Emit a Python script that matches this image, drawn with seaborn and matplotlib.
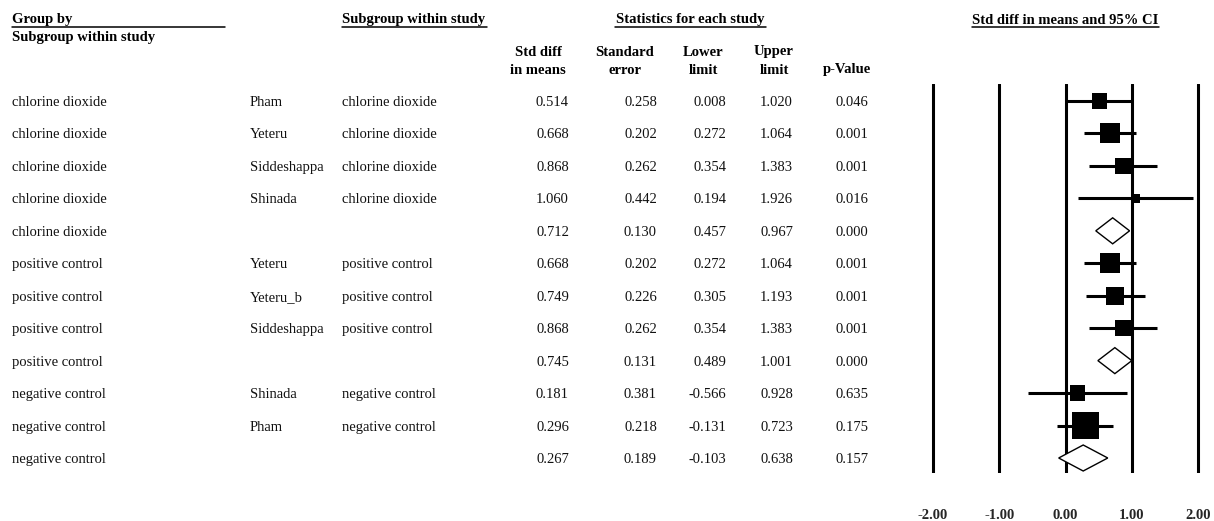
import numpy as np
import pandas as pd
import seaborn as sns
import matplotlib
matplotlib.use("Agg")
import matplotlib.pyplot as plt
from matplotlib import transforms
from matplotlib.lines import Line2D
from matplotlib.patches import Polygon

# ---- data -------------------------------------------------------------
groups = ["chlorine dioxide"] * 5 + ["positive control"] * 4 + ["negative control"] * 3
studies = ["Pham", "Yeteru", "Siddeshappa", "Shinada", "",
           "Yeteru", "Yeteru_b", "Siddeshappa", "",
           "Shinada", "Pham", ""]
subgroups = ["chlorine dioxide"] * 4 + [""] + ["positive control"] * 3 + [""] + ["negative control"] * 2 + [""]
std_diff = [0.514, 0.668, 0.868, 1.060, 0.712,
            0.668, 0.749, 0.868, 0.745,
            0.181, 0.296, 0.267]
std_err = [0.258, 0.202, 0.262, 0.442, 0.130,
           0.202, 0.226, 0.262, 0.131,
           0.381, 0.218, 0.189]
lower = [0.008, 0.272, 0.354, 0.194, 0.457,
         0.272, 0.305, 0.354, 0.489,
         -0.566, -0.131, -0.103]
upper = [1.020, 1.064, 1.383, 1.926, 0.967,
         1.064, 1.193, 1.383, 1.001,
         0.928, 0.723, 0.638]
p_value = [0.046, 0.001, 0.001, 0.016, 0.000,
           0.001, 0.001, 0.001, 0.000,
           0.635, 0.175, 0.157]
is_summary = [s == "" for s in studies]
axis_ticks = [-2, -1, 0, 1, 2]

df = pd.DataFrame({
    "row": np.arange(len(groups)), "group": groups, "study": studies,
    "subgroup": subgroups, "d": std_diff, "se": std_err,
    "lo": lower, "hi": upper, "p": p_value, "summary": is_summary,
})
# inverse-variance weight of each study within its subgroup
df["w"] = 1.0 / df["se"] ** 2
studies_df = df[~df["summary"]].copy()
studies_df["rel_w"] = studies_df["w"] / studies_df.groupby("group")["w"].transform("sum")
summary_df = df[df["summary"]]

# ---- figure ----------------------------------------------------------
W, H = 1214, 521
fig = plt.figure(figsize=(W / 100, H / 100), dpi=100)
sns.set_style("white")
plt.rcParams["font.family"] = ["Liberation Serif", "DejaVu Serif"]
FS = 10.5

# forest panel: one effect unit is about 66 px, -2 sits at x = 933 px
x_lo, x_hi = -2.1, 2.1
px_per_unit = 265 / 4
ax_left = 933 - 0.1 * px_per_unit
ax_w = (x_hi - x_lo) * px_per_unit
row_px = (458 - 101) / 11
y_top, y_bot = 84, 473
ax = fig.add_axes([ax_left / W, (H - y_bot) / H, ax_w / W, (y_bot - y_top) / H])
ax.set_xlim(x_lo, x_hi)
ax.set_ylim((y_bot - 101) / row_px, (y_top - 101) / row_px)
for s in ax.spines.values():
    s.set_visible(False)

for t in axis_ticks:
    ax.axvline(t, color="black", lw=2.2, zorder=1)

# confidence intervals of individual studies
ax.hlines(studies_df["row"], studies_df["lo"], studies_df["hi"],
          color="black", lw=2.2, zorder=2)

# study estimates: square area proportional to weight
side_max_pt = 31 * 0.72
sns.scatterplot(data=studies_df, x="d", y="row", size="rel_w",
                sizes=(0, side_max_pt ** 2), size_norm=(0, 1),
                marker="s", color="black", linewidth=0, legend=False,
                ax=ax, zorder=3)

# pooled subgroup estimates as diamonds
half_h = 13 / row_px
for _, r in summary_df.iterrows():
    ax.add_patch(Polygon([(r["lo"], r["row"]), (r["d"], r["row"] - half_h),
                          (r["hi"], r["row"]), (r["d"], r["row"] + half_h)],
                         closed=True, facecolor="white", edgecolor="black",
                         lw=1.0, zorder=3))

ax.set_xlabel("")
ax.set_ylabel("")
ax.set_yticks([])
ax.set_xticks(axis_ticks)
ax.set_xticklabels([f"{t:.2f}" for t in axis_ticks], fontweight="bold",
                   fontsize=FS, fontfamily="Liberation Serif")
ax.tick_params(axis="x", length=0, pad=26)

# ---- table text ------------------------------------------------------
row_tr = transforms.blended_transform_factory(fig.transFigure, ax.transData)


def fx(x):
    return x / W


def fy(y):
    return 1 - y / H


def head(x, y, s, ha="left"):
    return fig.text(fx(x), fy(y), s, ha=ha, va="center", fontsize=FS,
                    fontweight="bold", color="black")


def underline(x0, x1, y):
    fig.add_artist(Line2D([fx(x0), fx(x1)], [fy(y), fy(y)],
                          transform=fig.transFigure, color="black", lw=1.1))


def cell(x, y, s, ha="left"):
    fig.text(fx(x), y, s, transform=row_tr, ha=ha, va="center_baseline",
             fontsize=FS, color="#111111")


head(12, 20, "Group by")
underline(12, 225, 27)
head(12, 37, "Subgroup within study")
head(342, 20, "Subgroup within study")
underline(342, 487, 27)
head(690, 20, "Statistics for each study", ha="center")
underline(615, 766, 27)
head(1065, 20, "Std diff in means and 95% CI", ha="center")
underline(972, 1159, 27)

col_heads = [(538, "Std diff", "in means"), (625, "Standard", "error"),
             (703, "Lower", "limit"), (774, "Upper", "limit"),
             (847, "", "p-Value")]
for x, l1, l2 in col_heads:
    if l1:
        head(x, 52, l1, ha="center")
    head(x, 70, l2, ha="center")

num_cols = [("d", 569), ("se", 657), ("lo", 726), ("hi", 793), ("p", 868)]
for _, r in df.iterrows():
    y = r["row"]
    cell(12, y, r["group"])
    if r["study"]:
        cell(250, y, r["study"])
        cell(342, y, r["subgroup"])
    for col, x in num_cols:
        cell(x, y, f"{r[col]:.3f}", ha="right")

fig.savefig("out.png", dpi=100, facecolor="white")
